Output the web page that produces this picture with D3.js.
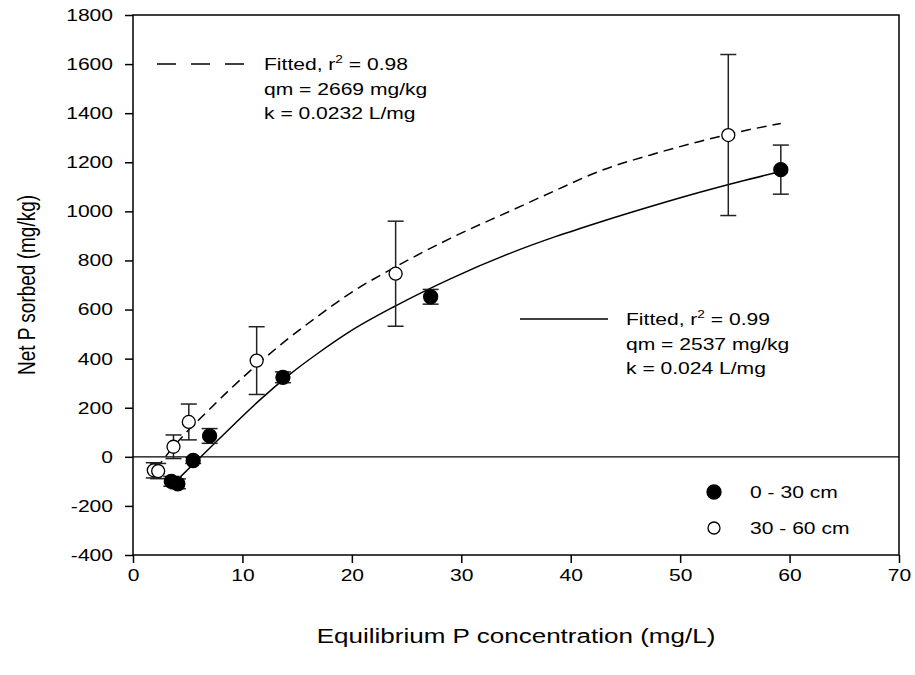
<!DOCTYPE html>
<html>
<head>
<meta charset="utf-8">
<script src="https://cdn.jsdelivr.net/npm/d3@7"></script>
<style>
  body { margin: 0; background: #fff; }
  text { font-family: "Liberation Sans", Arial, sans-serif; fill: #000; }
</style>
</head>
<body>
<div id="chart"></div>
<script>
(function(){
  'use strict';

  // tick labels
  var xTicks = [0, 10, 20, 30, 40, 50, 60, 70],
      yTicks = [-400, -200, 0, 200, 400, 600, 800, 1000, 1200, 1400, 1600, 1800];

  // measured points: c = conc (mg/L), q = sorbed (mg/kg), e = error
  var top30 = [
        {c: 3.5, q: -100, e: 20}, {c: 4.1, q: -110, e: 20}, {c: 5.5, q: -15, e: 12},
        {c: 7.0, q: 85, e: 30}, {c: 13.7, q: 324, e: 22}, {c: 27.2, q: 652, e: 30},
        {c: 59.2, q: 1170, e: 100}
      ],
      sub60 = [
        {c: 1.9, q: -55, e: 31}, {c: 2.3, q: -58, e: 31}, {c: 3.7, q: 41, e: 48},
        {c: 5.1, q: 142, e: 73}, {c: 11.3, q: 392, e: 138}, {c: 24.0, q: 746, e: 214},
        {c: 54.4, q: 1311, e: 328}
      ];

  // fitted curves
  var fit30 = [
        [3.8, -105], [5.5, -30], [7.0, 35], [9.3, 135], [11.6, 232], [14.3, 335],
        [17, 425], [19.8, 510], [24, 615], [29, 725], [34.5, 830], [38.6, 897],
        [42.7, 957], [47.3, 1020], [51.8, 1078], [55.5, 1122], [59.2, 1162]
      ],
      fit60 = [
        [2.1, -50], [3.7, 41], [5.1, 110], [6.8, 185], [8.7, 268], [10.7, 350],
        [13.7, 464], [16.8, 570], [19.8, 665], [24, 774], [29, 890], [34.5, 1002],
        [38.6, 1085], [42.7, 1165], [47.3, 1230], [51.8, 1285], [55.5, 1325], [59.2, 1358]
      ];

  var w = 915,
      h = 675,
      m = {left: 133, top: 15, right: 16, bottom: 120},
      SX = 1.24,   // the original figure's text is stretched sideways
      svg = d3.select('#chart').append('svg')
        .attr('width', w)
        .attr('height', h);

  var x = d3.scaleLinear()
      .domain([0, 70])
      .range([m.left, w - m.right]),

      y = d3.scaleLinear()
      .domain([-400, 1800])
      .range([h - m.bottom, m.top]);

  var fmt = function(d) { return String(d); };
  var xAxis = d3.axisBottom(x).tickValues(xTicks).tickFormat(fmt).tickSize(8).tickPadding(6),
      yAxis = d3.axisLeft(y).tickValues(yTicks).tickFormat(fmt).tickSize(8).tickPadding(12);

  var gx = svg.append('g')
    .attr('transform', 'translate(0,' + y(-400) + ')')
    .call(xAxis);
  var gy = svg.append('g')
    .attr('transform', 'translate(' + x(0) + ',0)')
    .call(yAxis);

  [gx, gy].forEach(function(g) {
    g.select('.domain').remove();
    g.selectAll('line').attr('stroke', '#000').attr('stroke-width', 1.5);
    g.selectAll('text')
      .attr('font-size', 17)
      .attr('font-family', '"Liberation Sans", Arial, sans-serif')
      .attr('fill', '#000')
      .attr('x', function() { return (+d3.select(this).attr('x') || 0) / SX; })
      .attr('transform', 'scale(' + SX + ',1)');
  });

  // frame
  svg.append('rect')
    .attr('x', x(0)).attr('y', y(1800))
    .attr('width', x(70) - x(0)).attr('height', y(-400) - y(1800))
    .attr('fill', 'none').attr('stroke', '#000').attr('stroke-width', 1.5);

  // zero line
  svg.append('line')
    .attr('x1', x(0)).attr('x2', x(70))
    .attr('y1', y(0)).attr('y2', y(0))
    .attr('stroke', '#000').attr('stroke-width', 1.3);

  var line = d3.line()
    .x(function(d) { return x(d[0]); })
    .y(function(d) { return y(d[1]); })
    .curve(d3.curveMonotoneX);

  svg.append('path').datum(fit60)
    .attr('d', line)
    .attr('fill', 'none').attr('stroke', '#000').attr('stroke-width', 1.5)
    .attr('stroke-dasharray', '10,6');

  svg.append('path').datum(fit30)
    .attr('d', line)
    .attr('fill', 'none').attr('stroke', '#000').attr('stroke-width', 1.5);

  // error bars + points
  function drawSet(data, filled, r) {
    var g = svg.append('g');
    var eb = g.selectAll('.eb').data(data).enter().append('g').attr('class', 'eb');
    eb.append('line')
      .attr('x1', function(d) { return x(d.c); }).attr('x2', function(d) { return x(d.c); })
      .attr('y1', function(d) { return y(d.q + d.e); }).attr('y2', function(d) { return y(d.q - d.e); });
    eb.append('line')
      .attr('x1', function(d) { return x(d.c) - 8; }).attr('x2', function(d) { return x(d.c) + 8; })
      .attr('y1', function(d) { return y(d.q + d.e); }).attr('y2', function(d) { return y(d.q + d.e); });
    eb.append('line')
      .attr('x1', function(d) { return x(d.c) - 8; }).attr('x2', function(d) { return x(d.c) + 8; })
      .attr('y1', function(d) { return y(d.q - d.e); }).attr('y2', function(d) { return y(d.q - d.e); });
    eb.selectAll('line').attr('stroke', '#222').attr('stroke-width', 1.5);

    g.selectAll('.pts').data(data).enter().append('circle')
      .attr('class', 'pts')
      .attr('cx', function(d) { return x(d.c); })
      .attr('cy', function(d) { return y(d.q); })
      .attr('r', r)
      .style('fill', filled ? '#000' : '#fff')
      .style('stroke', '#000')
      .style('stroke-width', 1.3);
  }
  drawSet(sub60, false, 6.5);
  drawSet(top30, true, 7);

  // stretched text helper
  function label(tx, ty, size, str, anchor) {
    return svg.append('text')
      .attr('transform', 'translate(' + tx + ',' + ty + ') scale(' + SX + ',1)')
      .attr('text-anchor', anchor || 'start')
      .attr('font-size', size)
      .text(str);
  }

  // axis titles
  label((x(0) + x(70)) / 2, 643, 21, 'Equilibrium P concentration (mg/L)', 'middle');

  svg.append('text')
    .attr('transform', 'translate(35,' + ((y(1800) + y(-400)) / 2) + ') rotate(-90) scale(1,' + SX + ')')
    .attr('text-anchor', 'middle').attr('font-size', 19)
    .text('Net P sorbed (mg/kg)');

  // fit annotations
  function fitLegend(x0, x1, ly, tx, r2, qm, k, dash) {
    var l = svg.append('line')
      .attr('x1', x0).attr('x2', x1).attr('y1', ly).attr('y2', ly)
      .attr('stroke', '#000').attr('stroke-width', 1.5);
    if (dash) l.attr('stroke-dasharray', dash);
    var t = label(tx, ly + 6, 17, null);
    t.append('tspan').text('Fitted, r');
    t.append('tspan').attr('dy', -7).attr('font-size', 11).text('2');
    t.append('tspan').attr('dy', 7).text(' = ' + r2);
    label(tx, ly + 31, 17, 'qm = ' + qm + ' mg/kg');
    label(tx, ly + 55, 17, 'k = ' + k + ' L/mg');
  }
  fitLegend(157, 245, 64, 264, '0.98', 2669, '0.0232', '19,15');
  fitLegend(520, 608, 319, 626, '0.99', 2537, '0.024', null);

  // symbol legend
  var leg = [{label: '0 - 30 cm', filled: true}, {label: '30 - 60 cm', filled: false}];
  var lg = svg.selectAll('.leg').data(leg).enter().append('g')
    .attr('transform', function(d, i) { return 'translate(714,' + (492 + i * 36) + ')'; });
  lg.append('circle').attr('r', function(d) { return d.filled ? 7 : 6; })
    .style('fill', function(d) { return d.filled ? '#000' : '#fff'; })
    .style('stroke', '#000').style('stroke-width', 1.3);
  lg.append('text')
    .attr('transform', 'translate(36,6) scale(' + SX + ',1)')
    .attr('font-size', 17)
    .text(function(d) { return d.label; });

}());
</script>
</body>
</html>
